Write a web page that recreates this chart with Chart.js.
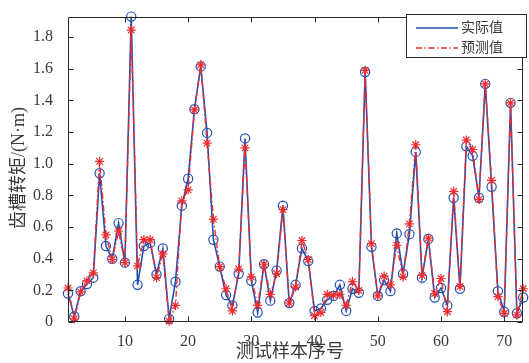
<!DOCTYPE html>
<html><head><meta charset="utf-8">
<script src="https://cdn.jsdelivr.net/npm/chart.js@4/dist/chart.umd.min.js"></script>
<style>html,body{margin:0;padding:0;background:#fff;overflow:hidden}#wrap{width:529px;height:363px;position:relative}</style>
</head><body><div id="wrap"><canvas id="c" width="529" height="363"></canvas></div>
<script>
const sampleIndex = [1,2,3,4,5,6,7,8,9,10,11,12,13,14,15,16,17,18,19,20,21,22,23,24,25,26,27,28,29,30,31,32,33,34,35,36,37,38,39,40,41,42,43,44,45,46,47,48,49,50,51,52,53,54,55,56,57,58,59,60,61,62,63,64,65,66,67,68,69,70,71,72,73];
const actualValues = [0.18,0.035,0.195,0.24,0.28,0.94,0.48,0.40,0.625,0.375,1.93,0.235,0.48,0.50,0.30,0.465,0.02,0.255,0.735,0.905,1.345,1.615,1.195,0.52,0.35,0.17,0.105,0.305,1.16,0.26,0.06,0.365,0.135,0.325,0.735,0.12,0.235,0.465,0.385,0.07,0.085,0.14,0.165,0.235,0.07,0.21,0.185,1.58,0.475,0.165,0.265,0.195,0.56,0.305,0.555,1.075,0.28,0.525,0.155,0.215,0.105,0.785,0.21,1.11,1.05,0.785,1.505,0.855,0.195,0.065,1.385,0.055,0.155];
const predictedValues = [0.215,0.02,0.19,0.26,0.31,1.015,0.55,0.395,0.575,0.375,1.845,0.355,0.52,0.52,0.28,0.43,0.005,0.105,0.765,0.835,1.34,1.625,1.13,0.65,0.35,0.21,0.07,0.335,1.10,0.285,0.105,0.365,0.175,0.305,0.71,0.12,0.22,0.515,0.395,0.04,0.06,0.175,0.17,0.175,0.105,0.255,0.20,1.59,0.495,0.165,0.29,0.235,0.485,0.285,0.62,1.12,0.295,0.53,0.18,0.275,0.065,0.825,0.225,1.15,1.09,0.775,1.505,0.895,0.16,0.055,1.385,0.045,0.21];
const xTickValues = [10,20,30,40,50,60,70];
const yTickValues = [0,0.2,0.4,0.6,0.8,1.0,1.2,1.4,1.6,1.8];
const yTickLabels = ['0','0.2','0.4','0.6','0.8','1.0','1.2','1.4','1.6','1.8'];
const seriesNames = ['实际值','预测值'];
const xAxisTitle = '测试样本序号';
const yAxisTitle = '齿槽转矩/(N·m)';

const BLUE = '#1f4fb0';
const RED = '#f52a2a';
const AXC = '#262626';
const TXC = '#3a3a3a';
const LATIN = '"Liberation Serif", "Times New Roman", serif';
const CJK = '"Liberation Serif", "Noto Sans CJK SC", sans-serif';

const decor = {
  id: 'decor',
  afterDatasetsDraw(chart) {
    const {ctx, chartArea: a, scales: {x, y}} = chart;
    ctx.save();
    ctx.strokeStyle = AXC; ctx.lineWidth = 1;
    const L = Math.round(a.left) + 0.5, R = Math.round(a.right) - 0.5;
    const T = Math.round(a.top) + 0.5, B = Math.round(a.bottom) - 0.5;
    ctx.beginPath();
    ctx.moveTo(L, T); ctx.lineTo(R, T); ctx.lineTo(R, B); ctx.lineTo(L, B); ctx.closePath();
    for (const v of xTickValues) {
      const p = Math.round(x.getPixelForValue(v)) + 0.5;
      ctx.moveTo(p, B); ctx.lineTo(p, B - 5);
      ctx.moveTo(p, T); ctx.lineTo(p, T + 5);
    }
    for (const v of yTickValues) {
      const p = Math.round(y.getPixelForValue(v)) + 0.5;
      ctx.moveTo(L, p); ctx.lineTo(L + 5, p);
      ctx.moveTo(R, p); ctx.lineTo(R - 5, p);
    }
    ctx.stroke();
    ctx.restore();
  },
  afterDraw(chart) {
    const {ctx} = chart;
    ctx.save();
    // axis titles
    ctx.fillStyle = TXC;
    ctx.font = '18px ' + CJK;
    ctx.textAlign = 'center'; ctx.textBaseline = 'middle';
    ctx.fillText(xAxisTitle, 290, 352);
    ctx.translate(19, 168); ctx.rotate(-Math.PI / 2);
    ctx.fillText(yAxisTitle, 0, 0);
    ctx.restore();
    // legend
    ctx.save();
    const bx = 406.5, by = 14.5, bw = 120, bh = 43;
    ctx.fillStyle = '#fff'; ctx.fillRect(bx, by, bw, bh);
    ctx.strokeStyle = AXC; ctx.lineWidth = 1; ctx.strokeRect(bx, by, bw, bh);
    ctx.lineWidth = 1.5;
    ctx.strokeStyle = BLUE; ctx.setLineDash([]);
    ctx.beginPath(); ctx.moveTo(416, 28); ctx.lineTo(458, 28); ctx.stroke();
    ctx.strokeStyle = RED; ctx.setLineDash([6, 2.5, 1.5, 2.5]);
    ctx.beginPath(); ctx.moveTo(416, 48); ctx.lineTo(458, 48); ctx.stroke();
    ctx.setLineDash([]);
    ctx.fillStyle = TXC; ctx.font = '14px ' + CJK; ctx.textAlign = 'left'; ctx.textBaseline = 'middle';
    ctx.fillText(seriesNames[0], 461, 28);
    ctx.fillText(seriesNames[1], 461, 48);
    ctx.restore();
  }
};

new Chart(document.getElementById('c'), {
  type: 'line',
  data: {
    datasets: [
      {
        label: seriesNames[0],
        data: sampleIndex.map((v, i) => ({x: v, y: actualValues[i]})),
        borderColor: BLUE, backgroundColor: 'rgba(0,0,0,0)', borderWidth: 1.6,
        pointStyle: 'circle', pointRadius: 4.6, pointBorderWidth: 1.2,
        pointBorderColor: BLUE, pointBackgroundColor: 'rgba(0,0,0,0)',
        tension: 0, clip: false, order: 2
      },
      {
        label: seriesNames[1],
        data: sampleIndex.map((v, i) => ({x: v, y: predictedValues[i]})),
        borderColor: RED, backgroundColor: 'rgba(0,0,0,0)', borderWidth: 1.4,
        borderDash: [6, 2.5, 1.5, 2.5],
        pointStyle: 'star', pointRadius: 4.6, pointBorderWidth: 1.2,
        pointBorderColor: RED, pointBackgroundColor: RED,
        tension: 0, clip: false, order: 1
      }
    ]
  },
  options: {
    responsive: false, animation: false, devicePixelRatio: 1,
    layout: {padding: {left: 0, right: 2, top: 10, bottom: 0}},
    plugins: {legend: {display: false}, tooltip: {enabled: false}},
    scales: {
      x: {
        type: 'linear', min: 1, max: 73,
        grid: {display: false}, border: {display: false},
        afterBuildTicks: s => { s.ticks = xTickValues.map(v => ({value: v})); },
        afterFit: s => { s.height = 41; },
        ticks: {color: TXC, font: {family: LATIN, size: 16}, padding: 2, maxRotation: 0, autoSkip: false,
                callback: v => String(v)}
      },
      y: {
        type: 'linear', min: 0, max: 1.93,
        grid: {display: false}, border: {display: false},
        afterBuildTicks: s => { s.ticks = yTickValues.map(v => ({value: v})); },
        afterFit: s => { s.width = 68; },
        ticks: {color: TXC, font: {family: LATIN, size: 16}, padding: 7, autoSkip: false,
                callback: v => yTickLabels[yTickValues.findIndex(t => Math.abs(t - v) < 1e-9)]}
      }
    }
  },
  plugins: [decor]
});
</script>
</body></html>
